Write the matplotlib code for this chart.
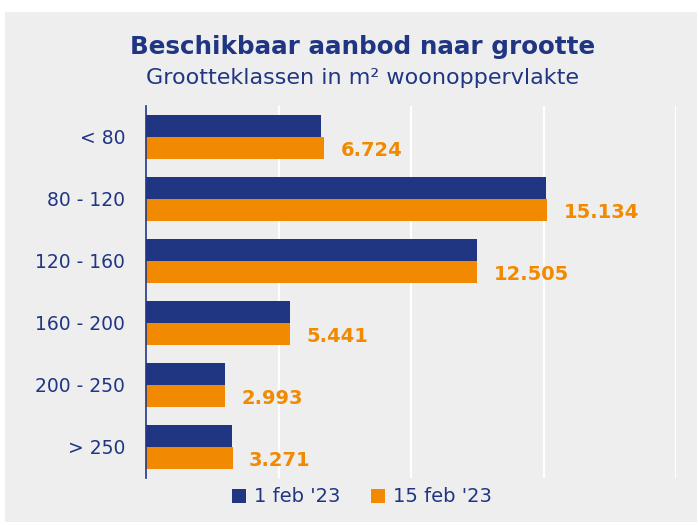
import numpy as np
import matplotlib.pyplot as plt
from matplotlib.patches import Rectangle

# data
categories = ['< 80', '80 - 120', '120 - 160', '160 - 200', '200 - 250', '> 250']
feb01 = [6590, 15100, 12480, 5420, 2980, 3260]
feb15 = [6724, 15134, 12505, 5441, 2993, 3271]
labels15 = ['6.724', '15.134', '12.505', '5.441', '2.993', '3.271']
series_names = ["1 feb '23", "15 feb '23"]

navy = '#203683'
orange = '#F18A00'
bg = '#EEEEEE'

plt.rcParams['font.family'] = ['DejaVu Sans']

fig = plt.figure(figsize=(6.99, 5.25), dpi=100)
fig.patch.set_facecolor('white')
fig.patches.append(Rectangle((5/699, 3/525), 692/699, 510/525,
                             transform=fig.transFigure, facecolor=bg,
                             edgecolor='none', zorder=-10))

ax = fig.add_axes([146/699, 1 - 478/525, 530/699, 372/525])
ax.set_facecolor(bg)

y = np.arange(len(categories))
h = 0.355
ax.barh(y - h/2, feb01, height=h, color=navy, label=series_names[0], zorder=3)
ax.barh(y + h/2, feb15, height=h, color=orange, label=series_names[1], zorder=3)

for yi, v, t in zip(y, feb15, labels15):
    ax.text(v + 620, yi + h/2 + 0.04, t, color=orange, fontsize=14,
            fontweight='bold', va='center', ha='left')

ax.set_xlim(0, 20000)
ax.set_ylim(len(categories) - 0.5, -0.5)
ax.set_xticks([0, 5000, 10000, 15000, 20000])
ax.xaxis.grid(True, color='white', lw=1.6, zorder=1)
ax.tick_params(axis='x', length=0, labelbottom=False)
ax.tick_params(axis='y', length=0, pad=15, labelsize=13.5, labelcolor=navy)
ax.set_yticks(y)
ax.set_yticklabels(categories)
for s in ['top', 'right', 'bottom']:
    ax.spines[s].set_visible(False)
ax.spines['left'].set_color(navy)
ax.spines['left'].set_linewidth(1.2)
ax.spines['left'].set_zorder(4)

fig.text(363/699, 1 - 47/525, 'Beschikbaar aanbod naar grootte', ha='center',
         va='center', fontsize=17.7, fontweight='bold', color=navy)
fig.text(362/699, 1 - 78/525, 'Grootteklassen in m² woonoppervlakte', ha='center',
         va='center', fontsize=16, color=navy)

leg = fig.legend(loc='center', bbox_to_anchor=(362/699, 1 - 497/525), ncol=2,
                 frameon=False, fontsize=14, handlelength=0.7, handleheight=0.7,
                 handletextpad=0.4, columnspacing=1.6)
for t in leg.get_texts():
    t.set_color(navy)

fig.savefig('out.png', dpi=100)
